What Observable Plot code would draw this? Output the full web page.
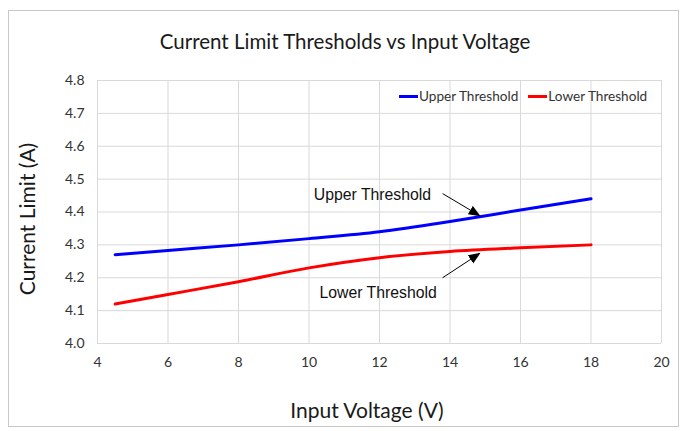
<!DOCTYPE html>
<html><head><meta charset="utf-8">
<script src="https://cdn.jsdelivr.net/npm/d3@7"></script>
<script src="https://cdn.jsdelivr.net/npm/@observablehq/plot@0.6"></script>
<style>
body{margin:0;background:#fff;}
#wrap{position:relative;width:682px;height:431px;font-family:Lato,"Open Sans",sans-serif;overflow:hidden;}
#frame{position:absolute;left:8px;top:10px;width:671px;height:417px;border:1px solid #c8c8c8;box-sizing:border-box;pointer-events:none;}
#title{position:absolute;left:0;width:690px;top:29px;text-align:center;font-size:20.5px;color:#1a1a1a;}
#xlabel{position:absolute;left:0;width:734px;top:397px;text-align:center;font-size:21px;color:#1a1a1a;}
#ylabel{position:absolute;left:26px;top:219px;transform:translate(-50%,-50%) rotate(-90deg);white-space:nowrap;font-size:21px;color:#1a1a1a;}
#legend{position:absolute;left:399px;top:88px;display:flex;gap:10px;font-size:13.6px;color:#333;}
#legend .item{display:flex;align-items:center;}
#legend .sw{width:19px;height:3px;margin-right:1px;}
#chart{position:absolute;left:0;top:0;}
</style></head><body>
<div id="wrap">
<div id="chart"></div>
<div id="frame"></div>
<div id="title"></div>
<div id="xlabel"></div>
<div id="ylabel"></div>
<div id="legend"></div>
</div>
<script>
// ---- data ----
const voltage = [4.5, 6, 8, 10, 12, 14, 16, 18];
const upperThreshold = [4.27, 4.283, 4.30, 4.319, 4.34, 4.371, 4.406, 4.44];
const lowerThreshold = [4.12, 4.149, 4.188, 4.23, 4.261, 4.28, 4.291, 4.30];
const seriesNames = ["Upper Threshold", "Lower Threshold"];
const seriesColors = ["#0000ff", "#ff0000"];
const xTicks = [4, 6, 8, 10, 12, 14, 16, 18, 20];
const yTicks = [4.0, 4.1, 4.2, 4.3, 4.4, 4.5, 4.6, 4.7, 4.8];
const titleText = "Current Limit Thresholds vs Input Voltage";
const xLabelText = "Input Voltage (V)";
const yLabelText = "Current Limit (A)";
const annotationText = ["Upper Threshold", "Lower Threshold"];
const annotationX = [11.8, 11.96];
const annotationY = [4.452, 4.155];
const arrowFromX = [13.79, 13.79];
const arrowFromY = [4.456, 4.2];
const arrowToX = [14.84, 14.84];
const arrowToY = [4.389, 4.274];

// ---- tables ----
const rows = [];
voltage.forEach((v, i) => {
  rows.push({v, a: upperThreshold[i], s: seriesNames[0]});
});
voltage.forEach((v, i) => {
  rows.push({v, a: lowerThreshold[i], s: seriesNames[1]});
});
const annos = annotationText.map((t, i) => ({t, x: annotationX[i], y: annotationY[i]}));
const arrows = arrowFromX.map((x1, i) => ({x1, y1: arrowFromY[i], x2: arrowToX[i], y2: arrowToY[i]}));

const chart = Plot.plot({
  width: 682, height: 431,
  marginLeft: 97, marginRight: 21, marginTop: 80, marginBottom: 88,
  style: {fontFamily: "Lato, sans-serif", fontSize: "14px", color: "#333", background: "transparent"},
  x: {domain: [4, 20], ticks: xTicks, tickSize: 0, tickPadding: 14, label: null},
  y: {domain: [4.0, 4.8], ticks: yTicks, tickFormat: d3.format(".1f"), tickSize: 0, tickPadding: 13, label: null},
  color: {domain: seriesNames, range: seriesColors},
  marks: [
    Plot.ruleX(xTicks, {stroke: "#d9d9d9", strokeWidth: 1}),
    Plot.ruleY(yTicks, {stroke: "#d9d9d9", strokeWidth: 1}),
    Plot.line(rows, {x: "v", y: "a", z: "s", stroke: "s", strokeWidth: 3, curve: "monotone-x"}),
    Plot.link(arrows, {x1: "x1", y1: "y1", x2: "x2", y2: "y2", stroke: "black", strokeWidth: 1, markerEnd: "arrow", className: "anno-arrow"}),
    Plot.text(annos, {x: "x", y: "y", text: "t", fontFamily: "Liberation Sans, Arial, sans-serif", fontSize: 15.8, fontWeight: "normal", fill: "#111"})
  ]
});
document.getElementById("chart").appendChild(chart);

// filled arrowheads
const svg = d3.select(chart);
const defs = svg.append("defs");
defs.append("marker")
  .attr("id", "filled-arrow")
  .attr("viewBox", "-10 -5 12 10")
  .attr("markerWidth", 13).attr("markerHeight", 11)
  .attr("markerUnits", "userSpaceOnUse")
  .attr("orient", "auto")
  .attr("refX", 0).attr("refY", 0)
  .append("path").attr("d", "M-10,-4.5L1,0L-10,4.5Z").attr("fill", "#000");
svg.selectAll(".anno-arrow path").attr("marker-end", "url(#filled-arrow)");

document.getElementById("title").textContent = titleText;
document.getElementById("xlabel").textContent = xLabelText;
document.getElementById("ylabel").textContent = yLabelText;
const leg = d3.select("#legend");
seriesNames.forEach((n, i) => {
  const it = leg.append("div").attr("class", "item");
  it.append("div").attr("class", "sw").style("background", seriesColors[i]);
  it.append("span").text(n);
});
</script>
</body></html>
